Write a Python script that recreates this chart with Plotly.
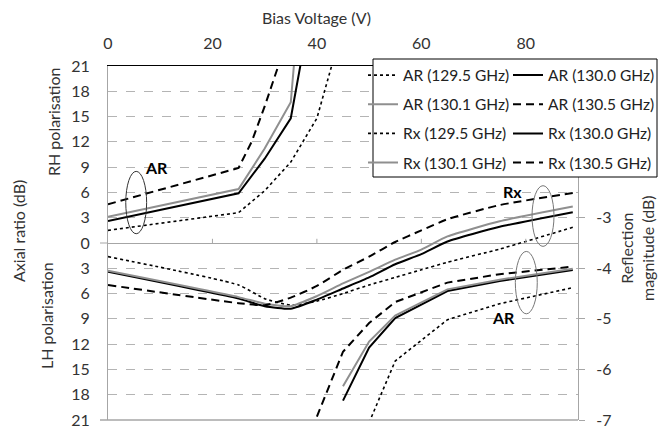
import plotly.graph_objects as go

FONT = "Lato, Carlito, 'Noto Sans', sans-serif"

# ---------------- data ----------------
# Axial ratio, signed: RH polarisation positive, LH polarisation negative (dB)
ar_1295_rh_v = [0, 25, 30, 35, 40, 43]
ar_1295_rh = [1.5, 3.6, 6.2, 9.6, 14.8, 21.4]
ar_1295_lh_v = [50, 55, 65, 75, 89]
ar_1295_lh = [-21.3, -14.0, -9.1, -7.2, -5.3]

ar_1300_rh_v = [0, 25, 30, 35, 37]
ar_1300_rh = [2.6, 5.9, 10.0, 14.8, 21.6]
ar_1300_lh_v = [45, 50, 55, 65, 75, 89]
ar_1300_lh = [-18.7, -12.4, -8.9, -5.7, -4.5, -3.2]

ar_1301_rh_v = [0, 25, 30, 35, 36]
ar_1301_rh = [3.1, 6.4, 11.2, 16.7, 24.0]
ar_1301_lh_v = [45, 50, 55, 65, 75, 89]
ar_1301_lh = [-17.0, -11.7, -8.6, -5.5, -4.35, -3.05]

ar_1305_rh_v = [0, 25, 27.5, 30, 32.5]
ar_1305_rh = [4.6, 8.9, 12.0, 16.2, 20.8]
ar_1305_lh_v = [40, 45, 50, 55, 65, 75, 89]
ar_1305_lh = [-20.6, -12.9, -9.5, -7.0, -4.7, -3.7, -2.8]

# Reflection magnitude (dB)
rx_v = [0, 25, 30, 35, 40, 45, 50, 55, 60, 65, 75, 89]
rx_1295 = [-3.77, -4.33, -4.60, -4.73, -4.65, -4.50, -4.33, -4.18, -4.03, -3.88, -3.62, -3.19]
rx_1300 = [-4.07, -4.60, -4.75, -4.80, -4.62, -4.40, -4.18, -3.92, -3.72, -3.47, -3.18, -2.89]
rx_1301 = [-4.05, -4.57, -4.70, -4.75, -4.55, -4.30, -4.07, -3.83, -3.63, -3.37, -3.07, -2.78]
rx_1305 = [-4.33, -4.69, -4.73, -4.58, -4.35, -4.03, -3.77, -3.48, -3.25, -3.03, -2.75, -2.51]

x_ticks = [0, 20, 40, 60, 80]
ar_ticks = [-21, -18, -15, -12, -9, -6, -3, 0, 3, 6, 9, 12, 15, 18, 21]
ar_tick_text = [str(abs(v)) for v in ar_ticks]
rx_ticks = [-3, -4, -5, -6, -7]

# callouts: (label, label_x, label_y, ellipse cx, cy, rx, ry, colour)
callouts = [
    ("AR", 9.3, 9.0, 5.4, 4.8, 2.0, 3.7, "#333333"),
    ("Rx", 77.4, 6.1, 83.3, 3.2, 2.1, 3.6, "#777777"),
    ("AR", 75.8, -8.8, 80.1, -4.7, 2.1, 3.7, "#777777"),
]

# ---------------- styles ----------------
st_dot = dict(color="black", width=1.6, dash="dot")
st_black = dict(color="black", width=2)
st_grey = dict(color="#8f8f8f", width=2)
st_dash = dict(color="black", width=2, dash="8px,5px")

fig = go.Figure()


def join(v1, a1, v2, a2):
    return v1 + [None] + v2, a1 + [None] + a2


ar_series = [
    ("AR (129.5 GHz)", ar_1295_rh_v, ar_1295_rh, ar_1295_lh_v, ar_1295_lh, st_dot, "legend"),
    ("AR (130.0 GHz)", ar_1300_rh_v, ar_1300_rh, ar_1300_lh_v, ar_1300_lh, st_black, "legend2"),
    ("AR (130.1 GHz)", ar_1301_rh_v, ar_1301_rh, ar_1301_lh_v, ar_1301_lh, st_grey, "legend"),
    ("AR (130.5 GHz)", ar_1305_rh_v, ar_1305_rh, ar_1305_lh_v, ar_1305_lh, st_dash, "legend2"),
]
for i, (name, v1, a1, v2, a2, st, lg) in enumerate(ar_series):
    xs, ys = join(v1, a1, v2, a2)
    fig.add_trace(go.Scatter(x=xs, y=ys, mode="lines", name=name, line=st,
                             legend=lg, legendgroup="g%d" % i, connectgaps=False))

rx_series = [
    ("Rx (129.5 GHz)", rx_1295, st_dot, "legend"),
    ("Rx (130.0 GHz)", rx_1300, st_black, "legend2"),
    ("Rx (130.1 GHz)", rx_1301, st_grey, "legend"),
    ("Rx (130.5 GHz)", rx_1305, st_dash, "legend2"),
]
for i, (name, vals, st, lg) in enumerate(rx_series):
    line = dict(st)
    line["shape"] = "spline"
    line["smoothing"] = 0.5
    fig.add_trace(go.Scatter(x=rx_v, y=vals, mode="lines", name=name, line=line,
                             yaxis="y2", legend=lg, legendgroup="r%d" % i))

# ---------------- layout ----------------
W, H = 658, 426
ML, MR, MT, MB = 108, 80, 66, 6
PW, PH = W - ML - MR, H - MT - MB


def px_x(p):
    return (p - ML) / PW


def px_y(p):
    return (H - MB - p) / PH


tick_font = dict(family=FONT, size=16, color="#333333")
title_font = dict(family=FONT, size=16, color="#333333")
grid_c = "#b4b4b4"
axis_c = "#a6a6a6"

leg_common = dict(xanchor="left", yanchor="top", bgcolor="rgba(0,0,0,0)", borderwidth=0,
                  font=dict(family=FONT, size=15.5, color="#222222"), tracegroupgap=6,
                  traceorder="grouped", itemwidth=30, orientation="v")

fig.update_layout(
    width=W, height=H,
    margin=dict(l=ML, r=MR, t=MT, b=MB, autoexpand=False),
    paper_bgcolor="white", plot_bgcolor="white",
    font=dict(family=FONT),
    showlegend=True,
    legend=dict(x=px_x(363), y=px_y(58.5), **leg_common),
    legend2=dict(x=px_x(508), y=px_y(58.5), **leg_common),
    xaxis=dict(range=[0, 90], side="top", tickvals=x_ticks, showgrid=False, zeroline=False,
               showline=True, linecolor="black", linewidth=1, ticks="",
               ticklabelstandoff=10, tickfont=tick_font, fixedrange=True,
               ticklabeloverflow="allow"),
    yaxis=dict(range=[-21, 21], tickvals=ar_ticks, ticktext=ar_tick_text,
               showgrid=True, gridcolor=grid_c, griddash="dash", gridwidth=1,
               zeroline=True, zerolinecolor=axis_c, zerolinewidth=1,
               showline=True, linecolor=axis_c, linewidth=1, ticks="",
               ticklabelstandoff=14, tickfont=tick_font, fixedrange=True,
               ticklabeloverflow="allow"),
    yaxis2=dict(range=[-7, 0], overlaying="y", side="right", tickvals=rx_ticks,
                ticktext=[str(v) for v in rx_ticks], showgrid=False, zeroline=False,
                showline=True, linecolor=axis_c, linewidth=1, ticks="outside",
                ticklen=6, tickcolor=axis_c, ticklabelstandoff=8,
                tickfont=tick_font, fixedrange=True, ticklabeloverflow="allow"),
)

shapes = []
# bottom frame line and zero axis, slightly extended to the left like the original
shapes.append(dict(type="line", xref="paper", yref="paper", x0=px_x(100), x1=1, y0=0, y1=0,
                   line=dict(color=axis_c, width=1.5)))
shapes.append(dict(type="line", xref="paper", yref="y", x0=px_x(100), x1=px_x(ML), y0=0, y1=0,
                   line=dict(color=axis_c, width=1)))
# small upward ticks on the zero axis
for v in x_ticks[1:]:
    shapes.append(dict(type="line", xref="x", yref="y", x0=v, x1=v, y0=0, y1=0.5,
                       line=dict(color=axis_c, width=1)))
# callout ellipses
for lab, lx, ly, cx, cy, rx, ry, col in callouts:
    shapes.append(dict(type="circle", xref="x", yref="y", x0=cx - rx, x1=cx + rx,
                       y0=cy - ry, y1=cy + ry, line=dict(color=col, width=1)))
# legend box
shapes.append(dict(type="rect", xref="paper", yref="paper", x0=px_x(373), x1=px_x(657),
                   y0=px_y(177), y1=px_y(59), fillcolor="white",
                   line=dict(color="black", width=1), layer="above"))
fig.update_layout(shapes=shapes)

ann = []
for lab, lx, ly, cx, cy, rx, ry, col in callouts:
    ann.append(dict(text="<b>%s</b>" % lab, x=lx, y=ly, xref="x", yref="y", showarrow=False,
                    xanchor="center", yanchor="middle",
                    font=dict(family=FONT, size=16, color="black")))


def side_text(text, px, py, angle=0):
    return dict(text=text, x=px_x(px), y=px_y(py), xref="paper", yref="paper",
                showarrow=False, textangle=angle, xanchor="center", yanchor="middle",
                font=title_font)


ann.append(side_text("Bias Voltage (V)", 316, 18))
ann.append(side_text("Axial ratio (dB)", 18, 231, -90))
ann.append(side_text("RH polarisation", 53, 122, -90))
ann.append(side_text("LH polarisation", 46, 316, -90))
ann.append(side_text("Reflection<br>magnitude (dB)", 637, 248, -90))
fig.update_layout(annotations=ann)

fig.write_html("out.html")
